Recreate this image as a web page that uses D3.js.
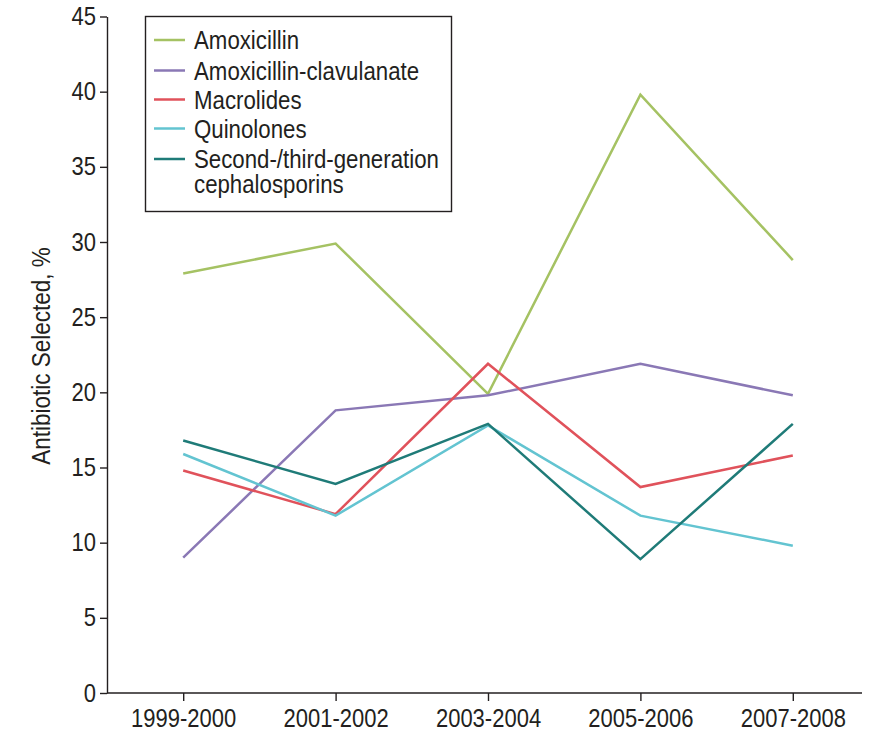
<!DOCTYPE html>
<html><head><meta charset="utf-8">
<script src="https://cdn.jsdelivr.net/npm/d3@7"></script>
<style>
body{margin:0;background:#fff;}
svg text{font-family:"Liberation Sans",Arial,sans-serif;fill:#231f20;}
</style></head>
<body><svg id="c" width="877" height="732"></svg>
<script>
const categories = ["1999-2000","2001-2002","2003-2004","2005-2006","2007-2008"];
const seriesNames = ["Amoxicillin","Amoxicillin-clavulanate","Macrolides","Quinolones","Second-/third-generation cephalosporins"];
const amoxicillin = [27.9, 29.9, 19.9, 39.8, 28.8];
const amoxClav = [9.0, 18.8, 19.8, 21.9, 19.8];
const macrolides = [14.8, 11.9, 21.9, 13.7, 15.8];
const quinolones = [15.9, 11.8, 17.8, 11.8, 9.8];
const cephalosporins = [16.8, 13.9, 17.9, 8.9, 17.9];
const yTicks = [0,5,10,15,20,25,30,35,40,45];
const colors = ["#a5c263","#8a78b5","#e0525b","#63c4d1","#1f7b78"];

(function(){
const series = [amoxicillin, amoxClav, macrolides, quinolones, cephalosporins];
const svg = d3.select("#c");
const mLeft = 107, mBottom = 693, mTop = 16.5, mRight = 869;
const FS = 25;
const condense = (sel, sq) => sel.each(function(){
  const w = this.getComputedTextLength();
  d3.select(this).attr("textLength", w*sq).attr("lengthAdjust","spacingAndGlyphs");
});
const x = d3.scalePoint().domain(categories).range([mLeft, mRight]).padding(0.5);
const y = d3.scaleLinear().domain([0,45]).range([mBottom, mTop]);

const ya = svg.append("g").attr("transform",`translate(${mLeft},0)`)
  .call(d3.axisLeft(y).tickValues(yTicks).tickSize(7).tickSizeOuter(0).tickPadding(4));
ya.select(".domain").attr("stroke","#231f20").attr("stroke-width",1.4);
ya.selectAll(".tick line").attr("stroke","#231f20").attr("stroke-width",1.4);
ya.selectAll(".tick text").attr("font-size",FS).attr("font-family",null).call(condense, 0.88);

const xa = svg.append("g").attr("transform",`translate(0,${mBottom})`)
  .call(d3.axisBottom(x).tickSize(8).tickSizeOuter(0).tickPadding(8));
xa.select(".domain").attr("d",`M${mLeft},0H862`).attr("stroke","#231f20").attr("stroke-width",1.4);
xa.selectAll(".tick line").attr("stroke","#231f20").attr("stroke-width",1.4);
xa.selectAll(".tick text").attr("font-size",FS).attr("font-family",null).call(condense, 0.88);

svg.append("text").attr("transform",`translate(50,356) rotate(-90)`)
  .attr("text-anchor","middle").attr("font-size",FS).text("Antibiotic Selected, %").call(condense, 0.9);

const line = d3.line().x((d,i)=>x(categories[i])).y(d=>y(d));
series.forEach((s,i)=>{
  svg.append("path").datum(s).attr("d",line).attr("fill","none")
    .attr("stroke",colors[i]).attr("stroke-width",2.5).attr("stroke-linejoin","miter");
});

const lg = svg.append("g");
lg.append("rect").attr("x",145.5).attr("y",16.5).attr("width",306).attr("height",195)
  .attr("fill","#fff").attr("stroke","#231f20").attr("stroke-width",1.4);
const rowsY = [40,70.5,99.5,128.5,159];
const labelLines = [["Amoxicillin"],["Amoxicillin-clavulanate"],["Macrolides"],["Quinolones"],["Second-/third-generation","cephalosporins"]];
labelLines.forEach((ls,i)=>{
  lg.append("line").attr("x1",154).attr("x2",185).attr("y1",rowsY[i]).attr("y2",rowsY[i])
    .attr("stroke",colors[i]).attr("stroke-width",2.5);
  ls.forEach((s,j)=>{
    lg.append("text").attr("x",194).attr("y",rowsY[i]+9+j*24.5).attr("font-size",FS).text(s).call(condense, 0.89);
  });
});
})();
</script></body></html>
